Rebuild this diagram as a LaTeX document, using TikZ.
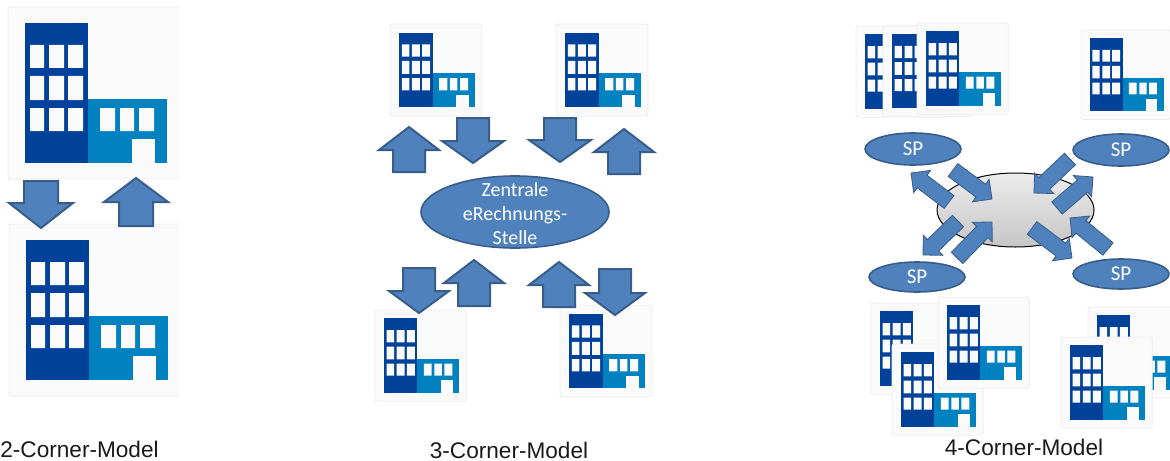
\documentclass[tikz,border=0pt]{standalone}
\usepackage{fontspec}
\setmainfont{Liberation Sans}
\newfontfamily\calibrifont{Carlito}
\usetikzlibrary{calc,shapes.geometric}
\def\px{0.5pt}
\definecolor{cardfill}{HTML}{FAFAFA}
\definecolor{cardline}{HTML}{EDEDED}
\definecolor{towerblue}{HTML}{00419A}
\definecolor{lowblue}{HTML}{0082C0}
\definecolor{arrowfill}{HTML}{4F81BD}
\definecolor{arrowline}{HTML}{385D8A}
\tikzset{
	spellipse/.style={ellipse, draw=arrowline, line width=0.8pt, fill=arrowfill, inner sep=0pt, text=white, font=\calibrifont\fontsize{10.5}{12}\selectfont, align=center},
	hubellipse/.style={ellipse, draw=black, line width=0.5pt, top color=gray!15, bottom color=gray!45, inner sep=0pt},
	zentraletext/.style={text=white, font=\calibrifont\fontsize{10}{12}\selectfont, align=center},
	modellabel/.style={text=black!90, font=\fontsize{11.3}{13}\selectfont}
}
\def\office(#1)(#2){
	\begin{scope}[shift={(#1)},scale=#2]
		\draw[draw=cardline, fill=cardfill, rounded corners=1pt] (0, 0) rectangle (172, 172);
		\fill[towerblue] (17, 16) rectangle (80, 156);
		\fill[lowblue] (80, 92) rectangle (159, 156);
		\fill[cardfill] (22, 38) rectangle (36, 61) (41, 38) rectangle (56, 61) (60, 38) rectangle (75, 61);
		\fill[cardfill] (22, 69) rectangle (36, 93) (41, 69) rectangle (56, 93) (60, 69) rectangle (75, 93);
		\fill[cardfill] (22, 101) rectangle (36, 124) (41, 101) rectangle (56, 124) (60, 101) rectangle (75, 124);
		\fill[cardfill] (92, 101) rectangle (107, 124) (112, 101) rectangle (126, 124) (131, 101) rectangle (146, 124);
		\fill[cardfill] (124, 132) rectangle (147, 156);
	\end{scope}
}
\def\blockarrow[#1](#2)(#3)(#4:#5:#6){
	\coordinate (tl) at (#2);
	\coordinate (hd) at (#3);
	\coordinate (nk) at ($(hd)!#6*\px!(tl)$);
	\draw[draw=arrowline, fill=arrowfill, #1] ($(tl)!#5*\px!90:(hd)$) -- ($(nk)!#5*\px!90:(hd)$) -- ($(nk)!#4*\px!90:(hd)$) -- (hd) -- ($(nk)!#4*\px!-90:(hd)$) -- ($(nk)!#5*\px!-90:(hd)$) -- ($(tl)!#5*\px!-90:(hd)$) -- cycle;
}
\begin{document}
\begin{tikzpicture}[x=\px, y=-\px]
	%%%%% 2-CORNER %%%%%
	\useasboundingbox (0, 0) rectangle (1170, 460);

	\begin{scope}
		\clip (0, 0) rectangle (179, 460);
		\office(8, 7)(1)
		\office(9, 224)(1)
	\end{scope}

	\blockarrow[line width=1pt](41, 181)(41, 228)(32:17:25);
	\blockarrow[line width=1pt](136, 226)(136, 178)(32:17:24);

	\node[modellabel] (twocorner) at (79.5, 449) {2-Corner-Model};

	%%%%% 3-CORNER %%%%%
	\office(390, 24)(0.535)
	\office(556, 24)(0.535)
	\office(375, 310)(0.53)
	\office(560, 305)(0.535)

	\node[spellipse, minimum width=188*\px, minimum height=72*\px] (zentrale) at (515, 212) {};
	\node[zentraletext] (zentraletext) at (515, 213.5) {Zentrale\\eRechnungs-\\Stelle};

	\blockarrow[line width=1pt](409, 172)(409, 127)(30:16:23);
	\blockarrow[line width=1pt](473, 118)(473, 163)(31:16:22);
	\blockarrow[line width=1pt](560, 118)(560, 162)(31:16:22);
	\blockarrow[line width=1pt](624, 174)(624, 129)(30:16:23);
	\blockarrow[line width=1pt](419, 268)(419, 313)(30:16:22);
	\blockarrow[line width=1pt](474, 306)(474, 260)(30:16:23);
	\blockarrow[line width=1pt](559, 307)(559, 262)(30:16:23);
	\blockarrow[line width=1pt](615, 269)(615, 315)(30:16:22);

	\node[modellabel] (threecorner) at (509, 450) {3-Corner-Model};

	%%%%% 4-CORNER %%%%%
	\office(856, 26)(0.53)
	\office(883, 26)(0.525)
	\office(917, 23)(0.53)
	\office(1081, 30)(0.52)

	\office(871, 303)(0.53)
	\office(892, 344)(0.53)
	\office(938, 297)(0.53)
	\office(1088, 307)(0.53)
	\office(1061, 337)(0.53)

	\node[hubellipse, minimum width=157*\px, minimum height=74*\px] (hub) at (1015.5, 210) {};

	\node[spellipse, minimum width=96*\px, minimum height=32*\px] (spa) at (913, 149) {SP};
	\node[spellipse, minimum width=96*\px, minimum height=32*\px] (spb) at (1121, 150) {SP};
	\node[spellipse, minimum width=96*\px, minimum height=30*\px] (spc) at (917, 277) {SP};
	\node[spellipse, minimum width=96*\px, minimum height=30*\px] (spd) at (1121, 274) {SP};

	\blockarrow[line width=0.4pt](949, 202)(911, 173)(14:8:14);
	\blockarrow[line width=0.4pt](953, 170)(992, 199)(14:8:14);
	\blockarrow[line width=0.4pt](1070, 159)(1034, 193)(14:8:14);
	\blockarrow[line width=0.4pt](1057, 208)(1093, 177)(14:8:14);
	\blockarrow[line width=0.4pt](1108, 249)(1070, 218)(14:8:14);
	\blockarrow[line width=0.4pt](1032, 228)(1072, 258)(14:8:14);
	\blockarrow[line width=0.4pt](958, 221)(923, 255)(14:8:14);
	\blockarrow[line width=0.4pt](957, 258)(992, 222)(14:8:14);

	\node[modellabel] (fourcorner) at (1024, 447) {4-Corner-Model};
\end{tikzpicture}
\end{document}
